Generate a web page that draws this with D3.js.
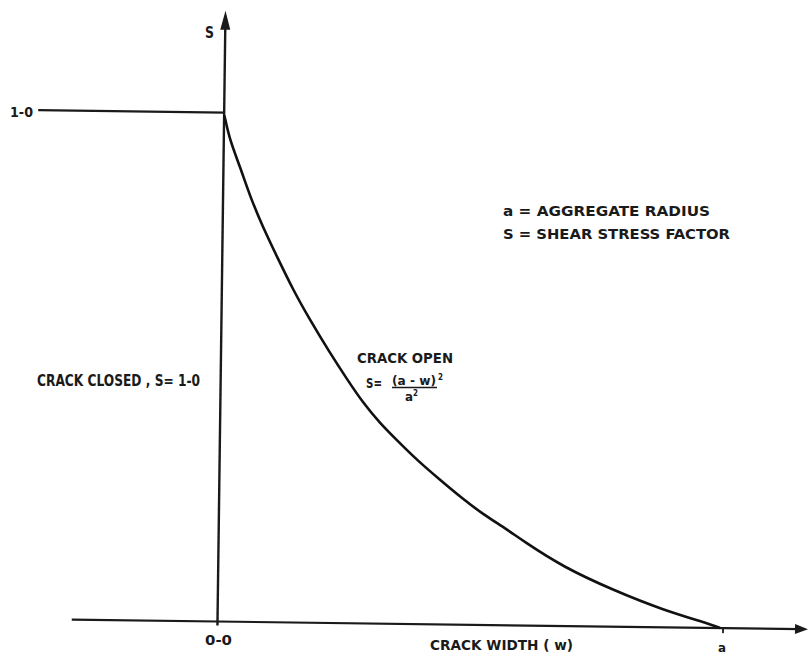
<!DOCTYPE html>
<html><head><meta charset="utf-8">
<script src="https://cdn.jsdelivr.net/npm/d3@7"></script>
<style>
html,body{margin:0;padding:0;background:#fff;}
text{font-family:"DejaVu Sans Condensed","Liberation Sans Narrow","DejaVu Sans",sans-serif;fill:#1a1a1a;font-weight:bold;}
</style>
</head><body>
<svg id="c" width="809" height="657"></svg>
<script>
// crack width w in units of aggregate radius a, shear stress factor S
const curveW = [0.0,0.002,0.012,0.033,0.054,0.080,0.109,0.142,0.176,0.217,0.251,0.284,0.318,0.352,0.393,0.439,0.485,0.525,0.574,0.606,0.686,0.786,0.886,0.986,1.0,1.0];
const curveS = [0.995,0.989,0.946,0.894,0.835,0.776,0.718,0.653,0.595,0.530,0.480,0.433,0.394,0.361,0.322,0.284,0.247,0.218,0.188,0.166,0.116,0.072,0.034,0.006,0.0,0.0];
const closedW = [-0.37, 0.0];
const closedS = [1.0, 1.0];
const xAxisExtent = [-0.29, 1.175];
const yAxisExtent = [-0.008, 1.2];
const xTicks = [{v:0,label:"0-0"},{v:1,label:"a"}];
const yTicks = [{v:1,label:"1-0"}];

const svg = d3.select("#c");
const x = d3.scaleLinear().domain([0,1]).range([0,502.6]);
const y = d3.scaleLinear().domain([0,1]).range([0,-509]);

const g = svg.append("g").attr("transform","translate(217.5,621.5) rotate(0.75)");

// x axis
g.append("line").attr("x1",x(xAxisExtent[0])).attr("x2",x(xAxisExtent[1])-8)
  .attr("y1",y(0)).attr("y2",y(0)).attr("stroke","#1a1a1a").attr("stroke-width",2.2);
const xe = x(xAxisExtent[1]);
g.append("path").attr("d",`M${xe},${y(0)} L${xe-13},${y(0)-5} L${xe-13},${y(0)+5} Z`).attr("fill","#1a1a1a");
// tick at a
g.append("line").attr("x1",x(1)+3).attr("x2",x(1)+3).attr("y1",y(0)).attr("y2",y(0)+5)
  .attr("stroke","#1a1a1a").attr("stroke-width",1.8);

// y axis
const ye = y(yAxisExtent[1]);
g.append("line").attr("x1",x(0)).attr("x2",x(0)).attr("y1",y(yAxisExtent[0])).attr("y2",ye+10)
  .attr("stroke","#1a1a1a").attr("stroke-width",2.4);
g.append("path").attr("d",`M${x(0)},${ye} L${x(0)-5},${ye+19} L${x(0)+5},${ye+19} Z`).attr("fill","#1a1a1a");

// crack closed line
g.append("line").attr("x1",x(closedW[0])).attr("x2",x(closedW[1]))
  .attr("y1",y(closedS[0])).attr("y2",y(closedS[1])).attr("stroke","#1a1a1a").attr("stroke-width",2.2);

// crack open curve
const pts = curveW.map((w,i)=>[x(w),y(curveS[i])]);
g.append("path").attr("d",d3.line().curve(d3.curveBasis)(pts))
  .attr("fill","none").attr("stroke","#111").attr("stroke-width",2.6);

// texts
function t(str,xp,yp,size,len){
  const el = svg.append("text").attr("x",xp).attr("y",yp).attr("font-size",size).text(str);
  if(len) el.attr("textLength",len).attr("lengthAdjust","spacingAndGlyphs");
  return el;
}
t("S",205,38,15,9);
t(yTicks[0].label,10,117,14,23);
t("a = AGGREGATE RADIUS",503,216,14,207);
t("S = SHEAR STRESS FACTOR",503,239,14,227);
t("CRACK CLOSED , S= 1-0",37,386,15,163);
t("CRACK OPEN",357,363,14,96);
t("S=",366,388,14,16);
t("(a - w)",392,385,12,44);
t("2",438,380,9,5);
svg.append("line").attr("x1",392).attr("x2",437).attr("y1",387.5).attr("y2",387.5).attr("stroke","#1a1a1a").attr("stroke-width",1.5);
t("a",405,401,12,8);
t("2",413,396,9,5);
t(xTicks[0].label,205,645,14,27);
t("CRACK WIDTH ( w)",430,650,14,143);
t(xTicks[1].label,718,652,13,8);
</script>
</body></html>
